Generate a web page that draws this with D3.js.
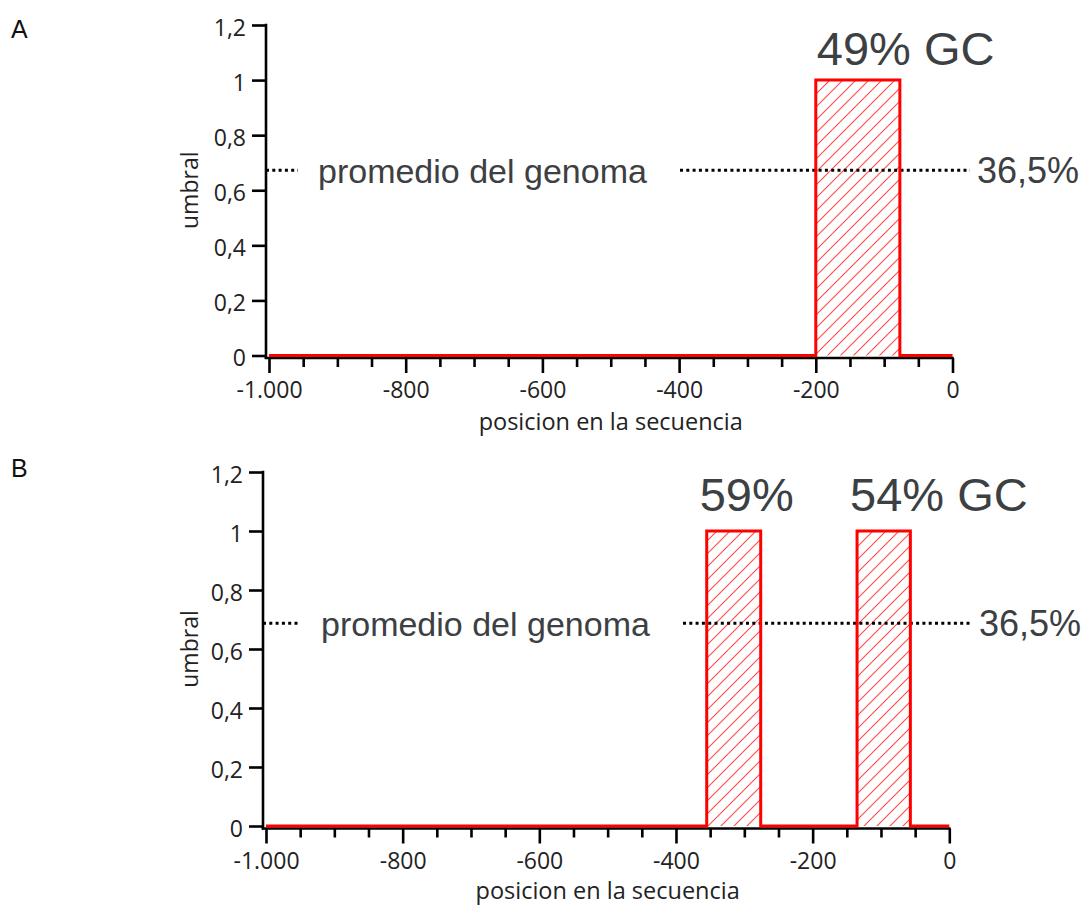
<!DOCTYPE html>
<html>
<head>
<meta charset="utf-8">
<script src="https://cdn.jsdelivr.net/npm/d3@7"></script>
<style>
  body { margin: 0; background: #fff; }
  svg { display: block; }
</style>
</head>
<body>
<svg id="chart" width="1087" height="907"></svg>
<script>
// Axis ticks and labels (Spanish number formatting)
const xMajorTicks = [-1000, -800, -600, -400, -200, 0];
const xMajorLabels = ["-1.000", "-800", "-600", "-400", "-200", "0"];
const yTicks = [0, 0.2, 0.4, 0.6, 0.8, 1, 1.2];
const yTickLabels = ["0", "0,2", "0,4", "0,6", "0,8", "1", "1,2"];

// Windows (start, end position) where the GC content exceeds the threshold
const windowsA = [[-200, -77]];
const windowsB = [[-355, -276], [-135, -57]];
const windowLevel = 1;

// GC content of each window
const gcLabelsA = ["49% GC"];
const gcLabelsB = ["59%", "54% GC"];

// Genome average reference line
const genomeAvgLevelA = 0.673;
const genomeAvgLevelB = 0.687;
const genomeAvgText = "36,5%";
const genomeAvgName = "promedio del genoma";

const xLabel = "posicion en la secuencia";
const yLabel = "umbral";

const svg = d3.select("#chart");

// Hatch pattern for the windows
const defs = svg.append("defs");
const hatch = defs.append("pattern")
  .attr("id", "hatch")
  .attr("patternUnits", "userSpaceOnUse")
  .attr("width", 13).attr("height", 13);
hatch.append("path")
  .attr("d", "M-2,2 L2,-2 M0,13 L13,0 M11,15 L15,11")
  .attr("stroke", "#ff4a4a")
  .attr("stroke-width", 1.1)
  .attr("fill", "none");

const axisFont = "'Open Sans', 'DejaVu Sans', sans-serif";
const noteFont = "'Liberation Sans', Arial, sans-serif";
const axisColor = "#222";
const noteColor = "#3c4043";

function drawPanel(opts) {
  const x = d3.scaleLinear().domain([-1000, 0]).range([opts.x0, opts.x1]);
  const y = d3.scaleLinear().domain([0, 1.2]).range([opts.y0, opts.y1]);
  const g = svg.append("g");

  // panel letter
  g.append("text")
    .attr("x", 11).attr("y", opts.letterY)
    .attr("font-family", noteFont).attr("font-size", 25)
    .attr("fill", "#111")
    .text(opts.letter);

  // y axis
  const yAxisX = x(-1000) - 3;
  const yAxis = d3.axisLeft(y)
    .tickValues(yTicks)
    .tickFormat((d, i) => yTickLabels[i])
    .tickSize(14)
    .tickSizeOuter(0)
    .tickPadding(6);
  const yg = g.append("g").attr("transform", `translate(${yAxisX},0)`).call(yAxis);
  yg.select(".domain").remove();
  yg.selectAll(".tick line").attr("stroke", "#000").attr("stroke-width", 2.6);
  yg.selectAll(".tick text")
    .attr("font-family", axisFont).attr("font-size", 23)
    .attr("fill", axisColor).attr("dy", "0.45em");
  g.append("line")
    .attr("x1", yAxisX).attr("x2", yAxisX)
    .attr("y1", y(1.2) - 1.3).attr("y2", y(0) + 3.5)
    .attr("stroke", "#000").attr("stroke-width", 2.6);

  // x axis
  const axisY = y(0) + 2.5;
  const xMinor = x.ticks(20).filter(d => !xMajorTicks.includes(d));
  const xAxisMinor = d3.axisBottom(x).tickValues(xMinor).tickSize(9).tickFormat("").tickSizeOuter(0);
  const xm = g.append("g").attr("transform", `translate(0,${axisY})`).call(xAxisMinor);
  xm.select(".domain").remove();
  xm.selectAll(".tick line").attr("stroke", "#000").attr("stroke-width", 2.6);

  const xAxis = d3.axisBottom(x)
    .tickValues(xMajorTicks)
    .tickFormat((d, i) => xMajorLabels[i])
    .tickSize(15)
    .tickSizeOuter(0)
    .tickPadding(9);
  const xg = g.append("g").attr("transform", `translate(0,${axisY})`).call(xAxis);
  xg.select(".domain").remove();
  xg.selectAll(".tick line").attr("stroke", "#000").attr("stroke-width", 2.6);
  xg.selectAll(".tick text")
    .attr("font-family", axisFont).attr("font-size", 23)
    .attr("fill", axisColor);
  g.append("line")
    .attr("x1", yAxisX - 1.3).attr("x2", x(0) + 1.3)
    .attr("y1", axisY).attr("y2", axisY)
    .attr("stroke", "#000").attr("stroke-width", 2.6);

  // axis titles
  g.append("text")
    .attr("x", (x(-1000) + x(0)) / 2).attr("y", opts.xLabelY)
    .attr("text-anchor", "middle")
    .attr("font-family", axisFont).attr("font-size", 23.5)
    .attr("fill", axisColor)
    .text(xLabel);
  g.append("text")
    .attr("transform", `translate(${opts.yLabelX},${(y(0) + y(1.2)) / 2}) rotate(-90)`)
    .attr("text-anchor", "middle")
    .attr("font-family", axisFont).attr("font-size", 23)
    .attr("fill", axisColor)
    .text(yLabel);

  // hatched windows
  g.selectAll("rect.win").data(opts.windows).enter().append("rect")
    .attr("class", "win")
    .attr("x", d => x(d[0]))
    .attr("y", y(windowLevel))
    .attr("width", d => x(d[1]) - x(d[0]))
    .attr("height", y(0) - y(windowLevel))
    .attr("fill", "url(#hatch)");

  // genome average dotted line
  const avgY = y(opts.avgLevel);
  opts.dotSegments.forEach(([a, b]) => {
    g.append("line")
      .attr("x1", a).attr("x2", b)
      .attr("y1", avgY).attr("y2", avgY)
      .attr("stroke", "#000").attr("stroke-width", 3)
      .attr("stroke-dasharray", "3,3.3");
  });
  g.append("text")
    .attr("x", opts.avgNameX).attr("y", avgY + 13)
    .attr("font-family", noteFont).attr("font-size", 34)
    .attr("fill", noteColor)
    .text(genomeAvgName);
  g.append("text")
    .attr("x", opts.avgValueX).attr("y", avgY + 13)
    .attr("font-family", noteFont).attr("font-size", 36)
    .attr("fill", noteColor)
    .text(genomeAvgText);

  // threshold step line
  const pts = [[-1000, 0]];
  opts.windows.forEach(([a, b]) => {
    pts.push([a, 0], [a, windowLevel], [b, windowLevel], [b, 0]);
  });
  pts.push([0, 0]);
  g.append("path")
    .attr("d", d3.line().x(d => x(d[0])).y(d => y(d[1]))(pts))
    .attr("fill", "none")
    .attr("stroke", "#ff0000")
    .attr("stroke-width", 3)
    .attr("stroke-linejoin", "miter");

  // GC labels above each window
  g.selectAll("text.gc").data(opts.gcLabels).enter().append("text")
    .attr("class", "gc")
    .attr("x", (d, i) => x(opts.windows[i][0]) + opts.gcDx)
    .attr("y", y(windowLevel) - opts.gcGap)
    .attr("font-family", noteFont).attr("font-size", 47)
    .attr("fill", noteColor)
    .text(d => d);
}

drawPanel({
  letter: "A", letterY: 38,
  x0: 269, x1: 952.5, y0: 355.5, y1: 25,
  windows: windowsA, gcLabels: gcLabelsA, gcDx: 1, gcGap: 15,
  avgLevel: genomeAvgLevelA,
  dotSegments: [[266, 298], [680, 970]],
  avgNameX: 318, avgValueX: 977,
  xLabelY: 430, yLabelX: 198
});

drawPanel({
  letter: "B", letterY: 477,
  x0: 266, x1: 949.3, y0: 826, y1: 472,
  windows: windowsB, gcLabels: gcLabelsB, gcDx: -7, gcGap: 20,
  avgLevel: genomeAvgLevelB,
  dotSegments: [[263, 300], [683, 972]],
  avgNameX: 321, avgValueX: 979,
  xLabelY: 899, yLabelX: 198
});
</script>
</body>
</html>
